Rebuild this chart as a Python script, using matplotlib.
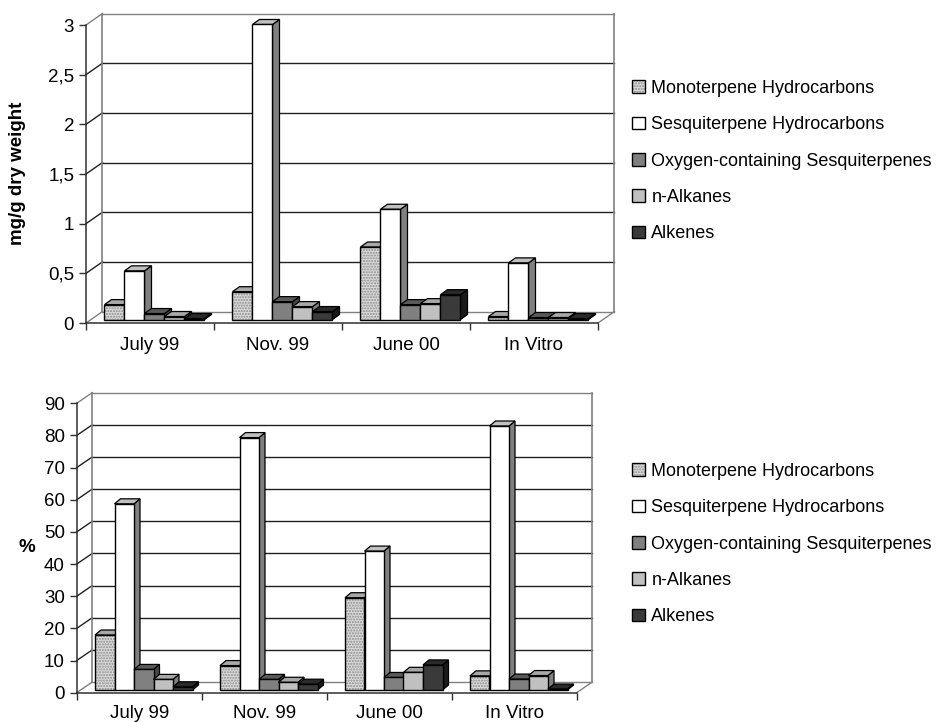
import numpy as np
import matplotlib
matplotlib.use('Agg')
from matplotlib import pyplot as plt
from matplotlib.patches import Patch, Polygon
from matplotlib.ticker import FuncFormatter

plt.rcParams['font.family'] = ['Liberation Sans', 'DejaVu Sans']
plt.rcParams['hatch.linewidth'] = 1.0

W, H = 943, 722

# %% data
categories = ['July 99', 'Nov. 99', 'June 00', 'In Vitro']
series_names = ['Monoterpene Hydrocarbons', 'Sesquiterpene Hydrocarbons',
                'Oxygen-containing Sesquiterpenes', 'n-Alkanes', 'Alkenes']

# mg/g dry weight
mg_mono = [0.15, 0.28, 0.73, 0.03]
mg_sesqui = [0.49, 2.97, 1.11, 0.57]
mg_oxy = [0.06, 0.18, 0.15, 0.02]
mg_nalk = [0.03, 0.13, 0.16, 0.02]
mg_alk = [0.01, 0.08, 0.25, 0.01]

# percentage of total
pct_mono = [17.1, 7.6, 28.7, 4.4]
pct_sesqui = [57.9, 78.5, 43.2, 82.1]
pct_oxy = [6.4, 3.3, 3.9, 3.4]
pct_nalk = [3.3, 2.4, 5.5, 4.5]
pct_alk = [1.0, 1.8, 7.8, 0.3]

# face colours: front, top, right side
front_colors = ['#dadada', 'white', '#808080', '#c0c0c0', '#3a3a3a']
top_colors = ['#a8a8a8', '#c0c0c0', '#5a5a5a', '#a8a8a8', '#2a2a2a']
side_colors = ['#808080', '#808080', '#484848', '#808080', '#1a1a1a']
hatches = ['......', None, None, None, None]


def make_axes(fig, box, origin, cat_px, val_px):
    # box in pixels (left, top, right, bottom); origin = pixel of front (0, 0)
    L, T, R, B = box
    x0, y0 = origin
    ax = fig.add_axes([L / W, 1 - B / H, (R - L) / W, (B - T) / H])
    ax.set_xlim((L - x0) / cat_px, (R - x0) / cat_px)
    ax.set_ylim((y0 - B) / val_px, (y0 - T) / val_px)
    ax.patch.set_visible(False)
    return ax


def draw_chart(ax, series, ymax, ystep, cat_px, val_px, back, bar_left,
               bar_base, bar_w, depth, decimal_comma, label_pad):
    n = len(categories)
    bdx, bdy = back[0] / cat_px, back[1] / val_px
    levels = np.arange(0, ymax + ystep / 2, ystep)

    # walls and gridlines
    for i, v in enumerate(levels):
        col = '#808080' if i in (0, len(levels) - 1) else '#202020'
        ax.plot([0, bdx], [v, v + bdy], color=col, lw=1, zorder=1)
        ax.plot([bdx, n + bdx], [v + bdy, v + bdy], color=col, lw=1, zorder=1)
    ax.plot([bdx, bdx], [bdy, ymax + bdy], color='#808080', lw=1.2, zorder=1)
    ax.plot([n + bdx, n + bdx], [bdy, ymax + bdy], color='#808080', lw=1.2, zorder=1)
    ax.plot([n, n + bdx], [0, bdy], color='#808080', lw=1, zorder=1)

    # 3-D columns
    w = bar_w / cat_px
    base = bar_base / val_px
    ddx, ddy = depth[0] / cat_px, depth[1] / val_px
    for s, vals in enumerate(series):
        xl = np.arange(n) + (bar_left + s * bar_w) / cat_px
        for x, v in zip(xl, vals):
            xr = x + w
            top = base + v
            ax.add_patch(Polygon([(xr, base), (xr + ddx, base + ddy),
                                  (xr + ddx, top + ddy), (xr, top)],
                                 facecolor=side_colors[s], edgecolor='black',
                                 lw=0.9, zorder=3))
            ax.add_patch(Polygon([(x, top), (xr, top), (xr + ddx, top + ddy),
                                  (x + ddx, top + ddy)],
                                 facecolor=top_colors[s], edgecolor='black',
                                 lw=0.9, zorder=3))
        if hatches[s]:
            ax.bar(xl, vals, width=w, bottom=base, align='edge',
                   color=front_colors[s], hatch=hatches[s], edgecolor='#8c8c8c',
                   lw=0, zorder=3)
            ax.bar(xl, vals, width=w, bottom=base, align='edge', fill=False,
                   edgecolor='black', lw=1, zorder=3)
        else:
            ax.bar(xl, vals, width=w, bottom=base, align='edge',
                   color=front_colors[s], edgecolor='black', lw=1, zorder=3)

    # front axes
    for side in ['top', 'right']:
        ax.spines[side].set_visible(False)
    ax.spines['left'].set_position(('data', 0))
    ax.spines['left'].set_bounds(0, ymax)
    ax.spines['bottom'].set_position(('data', 0))
    ax.spines['bottom'].set_bounds(0, n)
    for side in ['left', 'bottom']:
        ax.spines[side].set_color('#303030')
        ax.spines[side].set_linewidth(1.1)
    ax.set_yticks(levels)
    if decimal_comma:
        ax.yaxis.set_major_formatter(FuncFormatter(lambda v, p: f'{v:g}'.replace('.', ',')))
    else:
        ax.yaxis.set_major_formatter(FuncFormatter(lambda v, p: f'{v:g}'))
    ax.tick_params(axis='y', length=5, width=1, direction='out', pad=3.5,
                   labelsize=13.5, color='#303030')
    ax.set_xticks(np.arange(n + 1))
    ax.set_xticklabels([])
    ax.set_xticks(np.arange(n) + 0.5, minor=True)
    ax.set_xticklabels(categories, minor=True)
    ax.tick_params(axis='x', which='major', length=5, width=1, direction='out',
                   color='#303030')
    ax.tick_params(axis='x', which='minor', length=0, pad=label_pad, labelsize=13.5)


def add_legend(fig, x_px, y_px):
    handles = []
    for s in range(len(series_names)):
        if hatches[s]:
            handles.append((Patch(facecolor=front_colors[s], hatch=hatches[s],
                                  edgecolor='#8c8c8c', lw=0),
                            Patch(fill=False, edgecolor='black', lw=1)))
        else:
            handles.append(Patch(facecolor=front_colors[s], edgecolor='black', lw=1))
    fig.legend(handles, series_names, loc='upper left',
               bbox_to_anchor=(x_px / W, 1 - y_px / H), frameon=False,
               fontsize=13, handlelength=0.72, handleheight=0.72,
               handletextpad=0.35, labelspacing=1.07, borderaxespad=0,
               borderpad=0)


fig = plt.figure(figsize=(W / 100, H / 100), dpi=100)

# %% mg/g chart
cat_px, val_px = 128, (323 - 25) / 3
ax1 = make_axes(fig, (60, 5, 625, 330), (86, 323), cat_px, val_px)
draw_chart(ax1, [mg_mono, mg_sesqui, mg_oxy, mg_nalk, mg_alk], 3, 0.5,
           cat_px, val_px, back=(16.5, 11.5), bar_left=18.5, bar_base=3.5,
           bar_w=20, depth=(7, 5), decimal_comma=True, label_pad=10)
fig.text(18 / W, 1 - 173 / H, 'mg/g dry weight', rotation=90, ha='center',
         va='center', fontsize=13.5, fontweight='bold')
add_legend(fig, 632, 80)

# %% percentage chart
cat_px, val_px = 125, (692.7 - 403.3) / 90
ax2 = make_axes(fig, (50, 385, 600, 700), (76.7, 692.7), cat_px, val_px)
draw_chart(ax2, [pct_mono, pct_sesqui, pct_oxy, pct_nalk, pct_alk], 90, 10,
           cat_px, val_px, back=(15.6, 10.7), bar_left=18.3, bar_base=2.7,
           bar_w=19.5, depth=(6, 5), decimal_comma=False, label_pad=9)
fig.text(27 / W, 1 - 548 / H, '%', ha='center', va='center', fontsize=13.5,
         fontweight='bold')
add_legend(fig, 632, 463)

fig.savefig('out.png', dpi=100)
